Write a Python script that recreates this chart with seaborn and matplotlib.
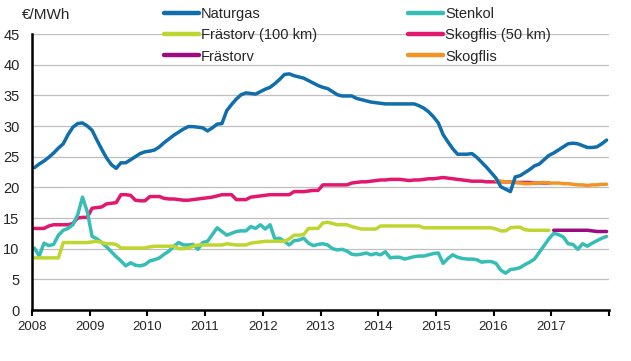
import numpy as np
import pandas as pd
import matplotlib
matplotlib.use('Agg')
import matplotlib.pyplot as plt
import seaborn as sns
from matplotlib.lines import Line2D

# monthly prices, Jan 2008 - Dec 2017 (EUR/MWh)
naturgas = [
    23.2, 23.8, 24.3, 24.9, 25.6, 26.4, 27.1, 28.6, 29.8, 30.4, 30.5, 30.0,
    29.3, 27.7, 26.2, 24.8, 23.7, 23.1, 24.0, 24.0, 24.5, 25.0, 25.5, 25.8,
    25.9, 26.1, 26.6, 27.3, 27.9, 28.5, 29.0, 29.5, 29.9, 29.9, 29.8, 29.7,
    29.2, 29.7, 30.3, 30.4, 32.5, 33.5, 34.4, 35.1, 35.4, 35.3, 35.2, 35.6,
    36.0, 36.3, 36.9, 37.6, 38.4, 38.5, 38.2, 38.0, 37.8, 37.4, 37.0, 36.6,
    36.3, 36.1, 35.6, 35.1, 34.9, 34.9, 34.9, 34.5, 34.3, 34.1, 33.9, 33.8,
    33.7, 33.6, 33.6, 33.6, 33.6, 33.6, 33.6, 33.6, 33.3, 32.9, 32.3, 31.5,
    30.5, 28.6, 27.4, 26.3, 25.4, 25.4, 25.4, 25.5, 24.9, 24.1, 23.3, 22.4,
    21.5, 20.1, 19.7, 19.3, 21.7, 21.9, 22.4, 22.9, 23.5, 23.8, 24.5, 25.2,
    25.6, 26.1, 26.6, 27.1, 27.2, 27.1, 26.8, 26.5, 26.5, 26.6, 27.1, 27.7,
]
stenkol = [
    10.1, 8.8, 10.9, 10.5, 10.7, 12.2, 13.0, 13.3, 13.9, 15.5, 18.4, 16.0,
    12.0, 11.6, 11.0, 10.3, 9.5, 8.7, 8.0, 7.2, 7.7, 7.3, 7.2, 7.4,
    8.0, 8.2, 8.5, 9.1, 9.6, 10.4, 11.0, 10.6, 10.6, 10.7, 9.9, 11.0,
    11.2, 12.3, 13.4, 12.8, 12.2, 12.5, 12.8, 12.9, 12.9, 13.6, 13.3, 13.9,
    13.2, 13.9, 11.6, 11.7, 11.2, 10.6, 11.3, 11.4, 11.7, 10.9, 10.5, 10.7,
    10.8, 10.6, 10.0, 9.8, 9.9, 9.6, 9.1, 9.0, 9.1, 9.3, 9.0, 9.2,
    9.0, 9.5, 8.5, 8.6, 8.6, 8.3, 8.5, 8.7, 8.8, 8.8, 9.0, 9.2,
    9.3, 7.6, 8.4, 9.0, 8.6, 8.4, 8.3, 8.3, 8.2, 7.8, 7.9, 7.9,
    7.6, 6.5, 6.0, 6.6, 6.7, 6.9, 7.4, 7.8, 8.3, 9.4, 10.5, 11.6,
    12.5, 12.3, 11.9, 10.8, 10.7, 9.9, 10.8, 10.4, 10.9, 11.3, 11.7, 12.0,
]
frastorv_100 = [
    8.5, 8.5, 8.5, 8.5, 8.5, 8.5, 11.0, 11.0, 11.0, 11.0, 11.0, 11.0,
    11.1, 11.2, 11.0, 10.8, 10.8, 10.7, 10.1, 10.1, 10.1, 10.1, 10.1, 10.1,
    10.3, 10.4, 10.4, 10.4, 10.4, 10.4, 10.0, 10.0, 10.1, 10.4, 10.6, 10.6,
    10.6, 10.6, 10.6, 10.6, 10.8, 10.7, 10.6, 10.6, 10.6, 10.9, 11.0, 11.1,
    11.2, 11.2, 11.2, 11.2, 11.2, 11.6, 12.2, 12.2, 12.3, 13.3, 13.3, 13.3,
    14.2, 14.3, 14.1, 13.9, 13.9, 13.9, 13.6, 13.4, 13.2, 13.2, 13.2, 13.2,
    13.7, 13.7, 13.7, 13.7, 13.7, 13.7, 13.7, 13.7, 13.7, 13.4, 13.4, 13.4,
    13.4, 13.4, 13.4, 13.4, 13.4, 13.4, 13.4, 13.4, 13.4, 13.4, 13.4, 13.4,
    13.2, 12.9, 12.9, 13.4, 13.5, 13.5, 13.1, 13.0, 13.0, 13.0, 13.0, 13.0,
] + [np.nan] * 12
skogflis_50 = [
    13.3, 13.3, 13.3, 13.7, 13.9, 13.9, 13.9, 13.9, 14.1, 15.0, 15.1, 15.1,
    16.6, 16.7, 16.8, 17.3, 17.4, 17.5, 18.8, 18.8, 18.7, 17.9, 17.8, 17.8,
    18.5, 18.5, 18.5, 18.2, 18.1, 18.1, 18.0, 17.9, 17.9, 18.0, 18.1, 18.2,
    18.3, 18.4, 18.6, 18.8, 18.8, 18.8, 18.0, 18.0, 18.0, 18.4, 18.5, 18.6,
    18.7, 18.8, 18.8, 18.8, 18.8, 18.8, 19.3, 19.3, 19.3, 19.4, 19.5, 19.5,
    20.4, 20.4, 20.4, 20.4, 20.4, 20.4, 20.7, 20.8, 20.9, 20.9, 21.0, 21.1,
    21.2, 21.2, 21.3, 21.3, 21.3, 21.2, 21.1, 21.2, 21.2, 21.3, 21.4, 21.4,
    21.5, 21.6, 21.5, 21.4, 21.3, 21.2, 21.1, 21.0, 21.0, 21.0, 20.9, 20.9,
    20.9, 20.9, 20.9, 20.9, 20.8, 20.8, 20.8, 20.8, 20.7, 20.7, 20.7, 20.7,
] + [np.nan] * 12
frastorv = [np.nan] * 108 + [
    13.0, 13.0, 13.0, 13.0, 13.0, 13.0, 13.0, 13.0, 12.9, 12.8, 12.8, 12.8,
]
skogflis = [np.nan] * 96 + [
    21.1, 21.0, 20.9, 20.9, 20.8, 20.7, 20.6, 20.6, 20.7, 20.7, 20.8, 20.7,
    20.7, 20.7, 20.6, 20.6, 20.5, 20.4, 20.4, 20.3, 20.4, 20.4, 20.5, 20.5,
]

years = list(range(2008, 2018))
legend_order = ['Naturgas', 'Frästorv (100 km)', 'Frästorv',
                'Stenkol', 'Skogflis (50 km)', 'Skogflis']
colors = {
    'Naturgas': '#0f6eab',
    'Stenkol': '#35bdb6',
    'Frästorv (100 km)': '#bfd630',
    'Skogflis (50 km)': '#e2186f',
    'Frästorv': '#9c0b7f',
    'Skogflis': '#f39323',
}

series = {
    'Skogflis (50 km)': skogflis_50,
    'Skogflis': skogflis,
    'Stenkol': stenkol,
    'Frästorv (100 km)': frastorv_100,
    'Frästorv': frastorv,
    'Naturgas': naturgas,
}
t = 2008 + (np.arange(120) + 0.5) / 12
df = pd.concat([pd.DataFrame({'t': t, 'value': v, 'series': k})
                for k, v in series.items()]).dropna()

sns.set_style('white')
plt.rcParams['font.family'] = ['Liberation Sans', 'DejaVu Sans']

fig = plt.figure(figsize=(6.31, 3.61), dpi=100)
ax = fig.add_axes([32 / 631, 1 - 310 / 361, 577 / 631, 276 / 361])

sns.lineplot(data=df, x='t', y='value', hue='series',
             hue_order=list(series.keys()), palette=colors,
             estimator=None, linewidth=2.5, legend=False, ax=ax)

ax.set_xlim(2008, 2018)
ax.set_ylim(0, 45)
ax.set_yticks(range(0, 50, 5))
ax.set_xticks(years + [2018])
ax.set_xticklabels([str(y) for y in years] + [''])
ax.set_xlabel('')
ax.set_ylabel('')
ax.yaxis.grid(True, color='#bfbfbf', linewidth=0.9)
ax.set_axisbelow(True)
for s in ['top', 'right']:
    ax.spines[s].set_visible(False)
for s in ['left', 'bottom']:
    ax.spines[s].set_color('black')
    ax.spines[s].set_linewidth(1.8)
ax.tick_params(axis='y', length=0, pad=9, labelsize=10.5)
ax.tick_params(axis='x', length=4, width=1.5, direction='out',
               color='black', pad=4, labelsize=9.5, bottom=True)

fig.text(22 / 631, 1 - 15 / 361, '€/MWh', fontsize=11, va='center', ha='left')

handles = [Line2D([], [], color=colors[k], linewidth=3.2) for k in legend_order]
fig.legend(handles, legend_order, ncol=2, loc='upper left',
           bbox_to_anchor=(164 / 631, 1 - 7 / 361), frameon=False,
           fontsize=10.5, borderpad=0, borderaxespad=0,
           handlelength=2.4, handletextpad=0.15, columnspacing=6.2,
           labelspacing=0.5)

fig.savefig('out.png', dpi=100)
